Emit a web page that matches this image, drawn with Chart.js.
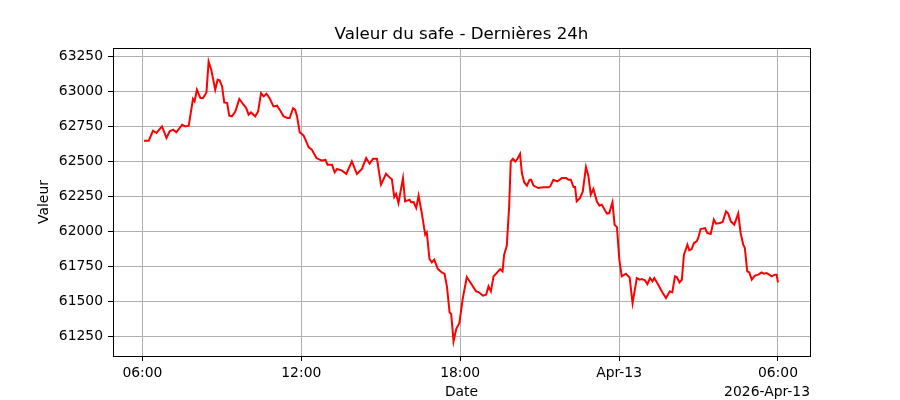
<!DOCTYPE html>
<html>
<head>
<meta charset="utf-8">
<script src="https://cdn.jsdelivr.net/npm/chart.js@4.4.1/dist/chart.umd.min.js"></script>
<style>
  body { margin: 0; background: #fff; }
  #wrap { width: 900px; height: 400px; }
</style>
</head>
<body>
<div id="wrap"><canvas id="chart" width="900" height="400"></canvas></div>
<script>
// hours since 2026-Apr-12 00:00
const times = [
  6.06, 6.24, 6.40, 6.53, 6.74, 6.91, 7.03, 7.16, 7.28, 7.50,
  7.62, 7.75, 7.91, 7.97, 8.06, 8.19, 8.29, 8.42, 8.50, 8.60,
  8.75, 8.84, 8.92, 9.01, 9.09, 9.20, 9.28, 9.38, 9.51, 9.66,
  9.82, 9.92, 10.01, 10.10, 10.26, 10.37, 10.48, 10.58, 10.68, 10.80,
  10.95, 11.08, 11.21, 11.33, 11.48, 11.56, 11.69, 11.77, 11.84, 11.94,
  12.09, 12.28, 12.40, 12.57, 12.78, 12.91, 12.99, 13.16, 13.26, 13.35,
  13.54, 13.70, 13.91, 14.10, 14.29, 14.45, 14.58, 14.71, 14.86, 15.01,
  15.20, 15.36, 15.42, 15.51, 15.58, 15.67, 15.84, 15.92, 16.09, 16.14,
  16.24, 16.34, 16.43, 16.55, 16.68, 16.74, 16.84, 16.93, 17.02, 17.16,
  17.31, 17.41, 17.50, 17.60, 17.66, 17.75, 17.85, 17.97, 18.10, 18.25,
  18.44, 18.60, 18.69, 18.86, 18.98, 19.07, 19.16, 19.26, 19.38, 19.51,
  19.60, 19.66, 19.76, 19.85, 19.91, 19.99, 20.08, 20.16, 20.26, 20.33,
  20.42, 20.52, 20.62, 20.68, 20.77, 20.95, 21.14, 21.33, 21.40, 21.52,
  21.67, 21.84, 22.00, 22.09, 22.18, 22.28, 22.34, 22.40, 22.53, 22.63,
  22.75, 22.84, 22.93, 23.03, 23.16, 23.26, 23.35, 23.54, 23.63, 23.75,
  23.83, 23.92, 24.01, 24.10, 24.26, 24.40, 24.51, 24.67, 24.77, 24.86,
  24.98, 25.07, 25.17, 25.26, 25.33, 25.48, 25.61, 25.77, 25.92, 26.01,
  26.11, 26.18, 26.28, 26.37, 26.45, 26.58, 26.65, 26.74, 26.83, 26.93,
  26.99, 27.08, 27.25, 27.33, 27.46, 27.58, 27.66, 27.81, 27.91, 28.04,
  28.12, 28.22, 28.35, 28.50, 28.59, 28.69, 28.75, 28.84, 28.92, 29.01,
  29.13, 29.26, 29.38, 29.47, 29.57, 29.67, 29.76, 29.89, 29.95, 30.00
];
const values = [
  62650, 62650, 62721, 62705, 62752, 62669, 62717, 62729, 62710, 62764,
  62752, 62757, 62948, 62931, 63014, 62955, 62955, 62995, 63216, 63157,
  63014, 63086, 63081, 63038, 62924, 62919, 62829, 62824, 62859, 62948,
  62907, 62883, 62836, 62852, 62824, 62859, 62990, 62967, 62986, 62955,
  62895, 62900, 62864, 62824, 62812, 62812, 62883, 62870, 62824, 62710,
  62686, 62602, 62586, 62526, 62507, 62514, 62479, 62479, 62424, 62448,
  62436, 62412, 62502, 62412, 62448, 62526, 62486, 62521, 62521, 62336,
  62414, 62383, 62376, 62248, 62271, 62205, 62383, 62217, 62229, 62210,
  62212, 62169, 62257, 62133, 61979, 61995, 61805, 61781, 61800, 61733,
  61709, 61698, 61610, 61424, 61412, 61217, 61305, 61348, 61526, 61676,
  61621, 61574, 61569, 61543, 61550, 61610, 61574, 61681, 61705, 61733,
  61717, 61836, 61900, 62181, 62502, 62521, 62502, 62519, 62555, 62419,
  62352, 62329, 62371, 62371, 62329, 62312, 62317, 62317, 62324, 62371,
  62359, 62383, 62383, 62371, 62371, 62319, 62319, 62217, 62241, 62288,
  62462, 62400, 62264, 62305, 62217, 62186, 62193, 62129, 62133, 62210,
  62050, 62033, 61800, 61681, 61700, 61672, 61490, 61669, 61657, 61662,
  61652, 61626, 61669, 61645, 61669, 61621, 61574, 61526, 61574, 61567,
  61681, 61676, 61638, 61657, 61836, 61907, 61867, 61876, 61919, 61931,
  61955, 62019, 62026, 61991, 61983, 62086, 62057, 62062, 62069, 62145,
  62129, 62074, 62050, 62129, 61991, 61907, 61883, 61717, 61709, 61657,
  61686, 61693, 61709, 61700, 61705, 61693, 61681, 61693, 61693, 61638
];
const xTickHours = [6, 12, 18, 24, 30];
const xTickLabels = ['06:00', '12:00', '18:00', 'Apr-13', '06:00'];
const yTicks = [61250, 61500, 61750, 62000, 62250, 62500, 62750, 63000, 63250];
const offsetLabel = '2026-Apr-13';

Chart.defaults.font.family = '"DejaVu Sans", sans-serif';
Chart.defaults.font.size = 13.9;
Chart.defaults.color = '#000';

// black frame + date offset text, matplotlib style
const framePlugin = {
  id: 'frame',
  afterDraw(chart) {
    const { ctx, chartArea: a } = chart;
    ctx.save();
    ctx.strokeStyle = '#000';
    ctx.lineWidth = 1;
    ctx.strokeRect(Math.round(a.left) + 0.5, Math.round(a.top) + 0.5,
      Math.round(a.right - a.left), Math.round(a.bottom - a.top));
    ctx.font = '13.9px "DejaVu Sans", sans-serif';
    ctx.fillStyle = '#000';
    ctx.textAlign = 'right';
    ctx.textBaseline = 'middle';
    ctx.fillText(offsetLabel, a.right, 392);
    ctx.restore();
  }
};

const points = times.map((t, i) => ({ x: t, y: values[i] }));

new Chart(document.getElementById('chart'), {
  type: 'line',
  data: {
    datasets: [{
      data: points,
      borderColor: '#ff0000',
      borderWidth: 2,
      pointRadius: 0,
      tension: 0,
      fill: false
    }]
  },
  options: {
    responsive: false,
    animation: false,
    devicePixelRatio: 1,
    layout: { padding: { left: 0, right: 90, top: 0, bottom: 0 } },
    plugins: {
      legend: { display: false },
      tooltip: { enabled: false },
      title: {
        display: true,
        text: 'Valeur du safe - Dernières 24h',
        fullSize: false,
        font: { size: 16.7, weight: 'normal' },
        padding: { top: 25, bottom: 3 }
      }
    },
    scales: {
      x: {
        type: 'linear',
        min: 4.89,
        max: 31.21,
        afterBuildTicks: (axis) => { axis.ticks = xTickHours.map(v => ({ value: v })); },
        afterFit: (scale) => { scale.height = 44; },
        ticks: {
          autoSkip: false,
          maxRotation: 0,
          padding: 4.5,
          callback: (value, index) => xTickLabels[index]
        },
        grid: { color: '#b0b0b0', lineWidth: 1, tickColor: '#000', tickLength: 5 },
        border: { display: false },
        title: { display: true, text: 'Date', padding: { top: 0, bottom: -1 } }
      },
      y: {
        min: 61112,
        max: 63312,
        afterBuildTicks: (axis) => { axis.ticks = yTicks.map(v => ({ value: v })); },
        afterFit: (scale) => { scale.width = 113; },
        ticks: {
          padding: 5,
          callback: (value) => String(value)
        },
        grid: { color: '#b0b0b0', lineWidth: 1, tickColor: '#000', tickLength: 5 },
        border: { display: false },
        title: { display: true, text: 'Valeur', padding: { top: 36, bottom: 0 } }
      }
    }
  },
  plugins: [framePlugin]
});
</script>
</body>
</html>
